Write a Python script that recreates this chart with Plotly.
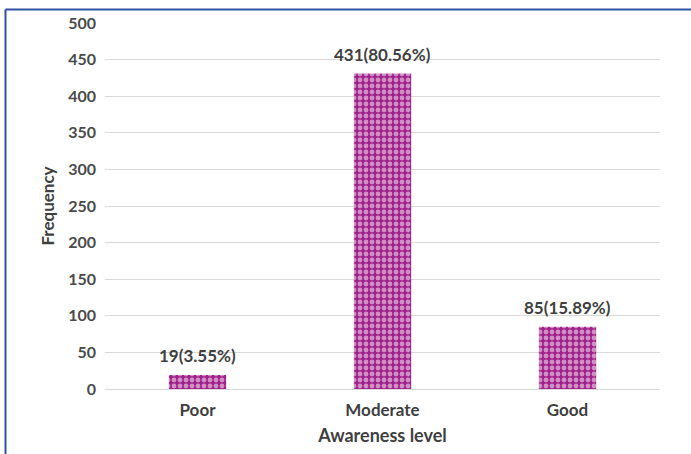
import plotly.graph_objects as go

categories = ["Poor", "Moderate", "Good"]
frequency = [19, 431, 85]
percent = ["3.55%", "80.56%", "15.89%"]
labels = [f"{f}({p})" for f, p in zip(frequency, percent)]

W, H = 691, 454
ML, MR, MT, MB = 105, 31, 23, 65
pw, ph = W - ML - MR, H - MT - MB
TXT = "#3F3F3F"
BAR = "#A0218A"

fig = go.Figure(go.Bar(
    x=categories, y=frequency, width=0.31,
    marker=dict(
        color=BAR,
        line=dict(width=0),
        pattern=dict(shape=".", fgcolor="white", bgcolor=BAR,
                     size=6, solidity=0.5, fillmode="overlay"),
    ),
))

# value labels sitting above each bar
for cat, val, lab in zip(categories, frequency, labels):
    fig.add_annotation(x=cat, y=val, text=lab, showarrow=False,
                       yanchor="bottom", yshift=7,
                       font=dict(family="Lato", size=17, color=TXT, weight="bold"))

# frame lines along the top and left edge
fig.add_shape(type="line", xref="paper", yref="paper",
              x0=(5.5 - ML) / pw, x1=(W - ML) / pw,
              y0=(H - MB - 9.5) / ph, y1=(H - MB - 9.5) / ph,
              line=dict(color="#2F52A6", width=2))
fig.add_shape(type="line", xref="paper", yref="paper",
              x0=(5.5 - ML) / pw, x1=(5.5 - ML) / pw,
              y0=(H - MB - 9.5) / ph, y1=-MB / ph - 0.01,
              line=dict(color="#2F52A6", width=2))

fig.update_layout(
    width=W, height=H,
    margin=dict(l=ML, r=MR, t=MT, b=MB),
    paper_bgcolor="white", plot_bgcolor="white",
    showlegend=False,
    font=dict(family="Lato", color=TXT),
    xaxis=dict(
        title=dict(text="Awareness level", standoff=10,
                   font=dict(size=18, color=TXT, weight="bold")),
        tickfont=dict(size=17, color=TXT, weight="bold"),
        showgrid=False, showline=False, ticks="", ticklabelstandoff=9,
    ),
    yaxis=dict(
        range=[0, 500], dtick=50,
        title=dict(text="Frequency", standoff=9,
                   font=dict(size=17, color=TXT, weight="bold")),
        tickfont=dict(size=16, color="#4A4A4A", weight="bold"),
        showgrid=True, gridcolor="#D9D9D9", gridwidth=1,
        zeroline=True, zerolinecolor="#D9D9D9", zerolinewidth=1,
        showline=False, ticks="", ticklabelstandoff=8,
    ),
)

fig.write_html("out.html")
